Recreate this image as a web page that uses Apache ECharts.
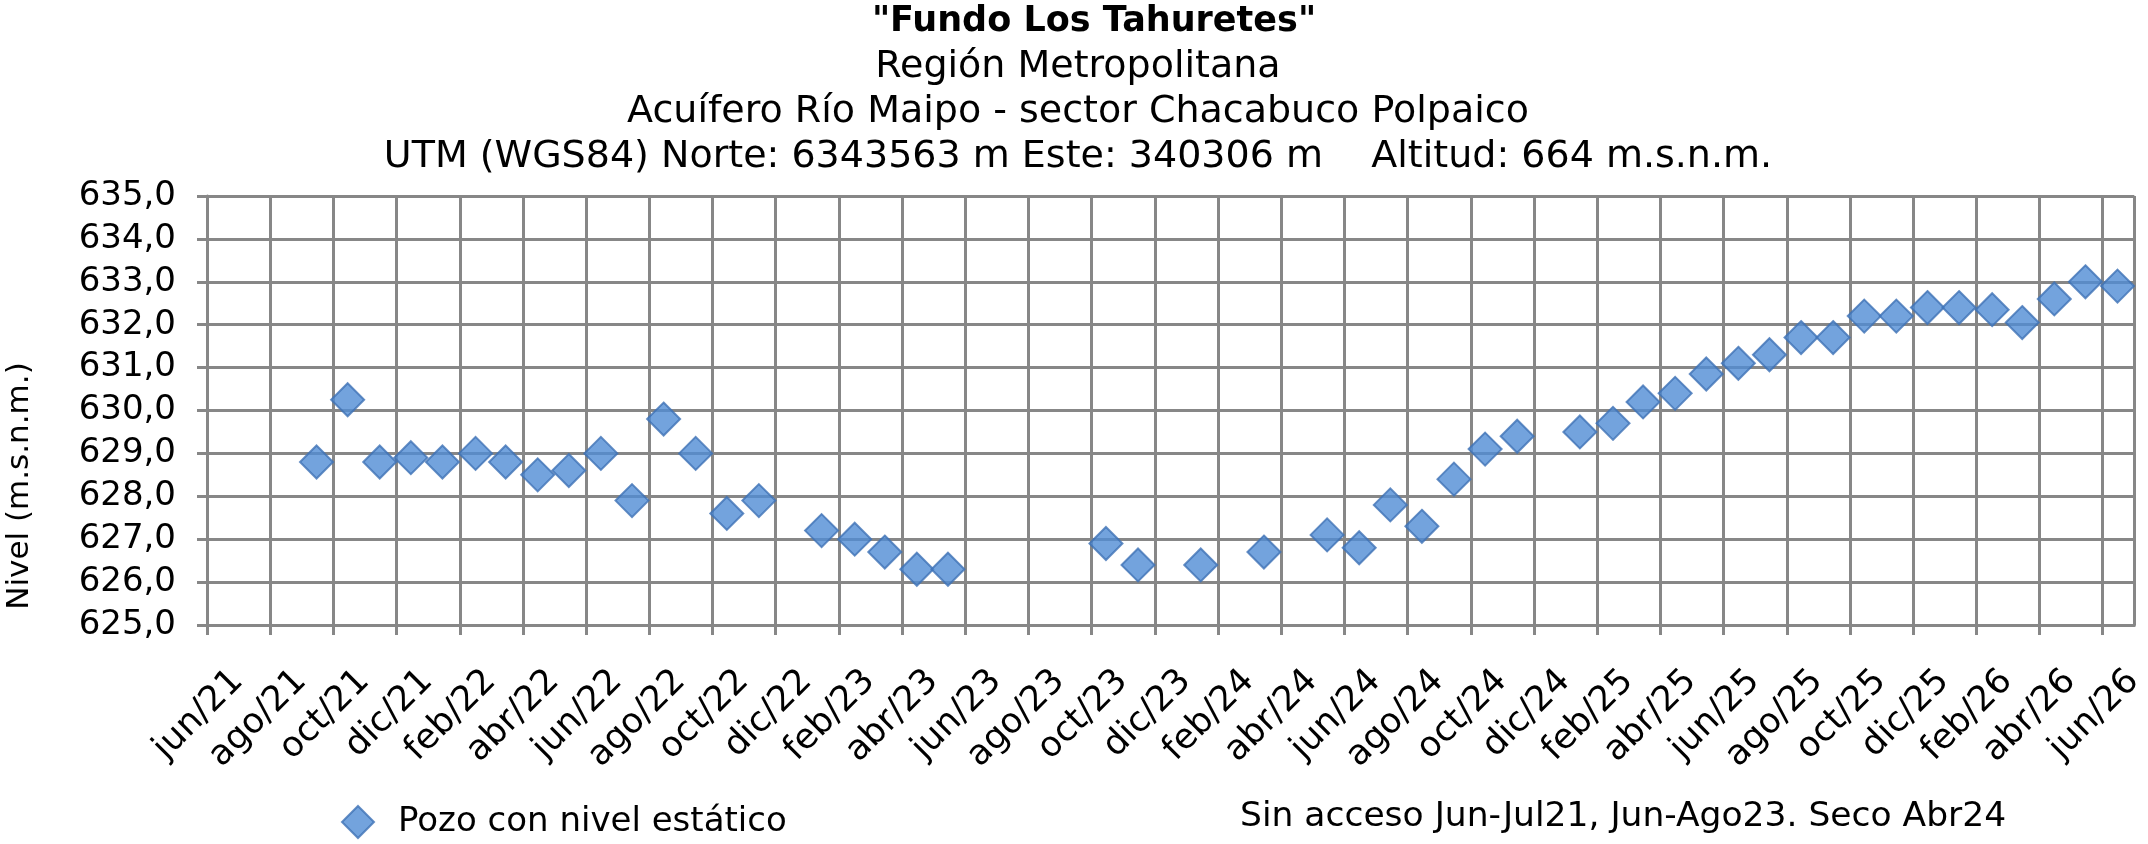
<!DOCTYPE html>
<html>
<head>
<meta charset="utf-8">
<title>Fundo Los Tahuretes</title>
<script src="https://cdn.jsdelivr.net/npm/echarts@6/dist/echarts.min.js"></script>
<style>
  html, body { margin: 0; padding: 0; background: #fff; }
  #chart { width: 2148px; height: 844px; }
</style>
</head>
<body>
<div id="chart"></div>
<script>
// fechas de medición y nivel estático (m.s.n.m.)
const fechas = [
  '2021-09-15', '2021-10-15', '2021-11-15', '2021-12-15',
  '2022-01-15', '2022-02-15', '2022-03-15', '2022-04-15', '2022-05-15', '2022-06-15',
  '2022-07-15', '2022-08-15', '2022-09-15', '2022-10-15', '2022-11-15',
  '2023-01-15', '2023-02-15', '2023-03-15', '2023-04-15', '2023-05-15',
  '2023-10-15', '2023-11-15',
  '2024-01-15', '2024-03-15', '2024-05-15', '2024-06-15', '2024-07-15', '2024-08-15',
  '2024-09-15', '2024-10-15', '2024-11-15',
  '2025-01-15', '2025-02-15', '2025-03-15', '2025-04-15', '2025-05-15', '2025-06-15',
  '2025-07-15', '2025-08-15', '2025-09-15', '2025-10-15', '2025-11-15', '2025-12-15',
  '2026-01-15', '2026-02-15', '2026-03-15', '2026-04-15', '2026-05-15', '2026-06-15'
];
const niveles = [
  628.8, 630.25, 628.8, 628.9,
  628.8, 629.0, 628.8, 628.5, 628.6, 629.0,
  627.9, 629.8, 629.0, 627.6, 627.9,
  627.2, 627.0, 626.7, 626.3, 626.3,
  626.9, 626.4,
  626.4, 626.7, 627.1, 626.8, 627.8, 627.3,
  628.4, 629.1, 629.4,
  629.5, 629.7, 630.2, 630.4, 630.85, 631.1,
  631.3, 631.7, 631.7, 632.2, 632.2, 632.4,
  632.4, 632.35, 632.05, 632.6, 633.0, 632.9
];

// eje X: meses contados desde jun/21, etiqueta cada 2 meses
const inicioEje = { anio: 2021, mes: 6 };
const mesesEje = 61;           // jun/21 .. jul/26
const pasoMeses = 2;
const nombresMes = ['ene', 'feb', 'mar', 'abr', 'may', 'jun', 'jul', 'ago', 'sep', 'oct', 'nov', 'dic'];

// eje Y
const nivelMin = 625;
const nivelMax = 635;
const pasoNivel = 1;

const titulos = [
  '"Fundo Los Tahuretes"',
  'Región Metropolitana',
  'Acuífero Río Maipo - sector Chacabuco Polpaico',
  'UTM (WGS84) Norte: 6343563 m Este: 340306 m    Altitud: 664 m.s.n.m.'
];
const nombreSerie = 'Pozo con nivel estático';
const nota = 'Sin acceso Jun-Jul21, Jun-Ago23. Seco Abr24';
const tituloEjeY = 'Nivel (m.s.n.m.)';

function mesIndice(fecha) {
  const [a, m, d] = fecha.split('-').map(Number);
  const diasMes = new Date(a, m, 0).getDate();
  return (a - inicioEje.anio) * 12 + (m - inicioEje.mes) + (d - 1) / diasMes;
}

function etiquetaMes(v) {
  const total = inicioEje.mes - 1 + Math.round(v);
  const anio = inicioEje.anio + Math.floor(total / 12);
  return nombresMes[total % 12] + '/' + String(anio).slice(2);
}

const FONT = '"DejaVu Sans", Verdana, sans-serif';
const GRIS = '#878787';

const chart = echarts.init(document.getElementById('chart'));

const titleX = [1094, 1078, 1078, 1078];
const titleY = [22, 67, 112, 157];

chart.setOption({
  backgroundColor: '#fff',
  animation: false,
  textStyle: { fontFamily: FONT, color: '#000' },
  grid: { left: 207, right: 6, top: 196, bottom: 219, containLabel: false },
  xAxis: {
    type: 'value',
    min: 0,
    max: mesesEje,
    interval: pasoMeses,
    axisLine: { show: true, onZero: false, lineStyle: { color: GRIS, width: 3 } },
    axisTick: { show: true, length: 10, lineStyle: { color: GRIS, width: 3 } },
    splitLine: { show: true, lineStyle: { color: GRIS, width: 3 } },
    axisLabel: {
      rotate: 45,
      margin: 20,
      fontSize: 35,
      color: '#000',
      fontFamily: FONT,
      align: 'right',
      verticalAlign: 'top',
      padding: [26, 0, 0, 0],
      showMaxLabel: false,
      formatter: etiquetaMes
    }
  },
  yAxis: {
    type: 'value',
    min: nivelMin,
    max: nivelMax,
    interval: pasoNivel,
    axisLine: { show: true, lineStyle: { color: GRIS, width: 3 } },
    axisTick: { show: true, length: 10, lineStyle: { color: GRIS, width: 3 } },
    splitLine: { show: true, lineStyle: { color: GRIS, width: 3 } },
    axisLabel: {
      margin: 31,
      fontSize: 34,
      color: '#000',
      fontFamily: FONT,
      formatter: v => v.toFixed(1).replace('.', ',')
    }
  },
  legend: {
    data: [{ name: nombreSerie, icon: 'diamond' }],
    left: 336,
    top: 800,
    itemWidth: 32,
    itemHeight: 32,
    textStyle: { fontSize: 34, color: '#000', fontFamily: FONT, padding: [0, 0, 0, 19] }
  },
  series: [{
    name: nombreSerie,
    type: 'scatter',
    symbol: 'diamond',
    symbolSize: [33, 33],
    itemStyle: { color: '#508CD4', borderColor: '#3F72B5', borderWidth: 2 },
    data: fechas.map((f, i) => [mesIndice(f), niveles[i]])
  }],
  graphic: [
    ...titulos.map((t, i) => ({
      type: 'text',
      x: titleX[i],
      y: titleY[i],
      style: {
        text: t,
        fontSize: i === 0 ? 35 : 38,
        fontWeight: i === 0 ? 'bold' : 'normal',
        fontFamily: FONT,
        fill: '#000',
        textAlign: 'center',
        textVerticalAlign: 'middle'
      }
    })),
    {
      type: 'text',
      x: 20,
      y: 486,
      rotation: Math.PI / 2,
      style: {
        text: tituloEjeY,
        fontSize: 31,
        fontFamily: FONT,
        fill: '#000',
        textAlign: 'center',
        textVerticalAlign: 'middle'
      }
    },
    {
      type: 'text',
      x: 1240,
      y: 817,
      style: {
        text: nota,
        fontSize: 34.5,
        fontFamily: FONT,
        fill: '#000',
        textVerticalAlign: 'middle'
      }
    }
  ]
});
</script>
</body>
</html>
